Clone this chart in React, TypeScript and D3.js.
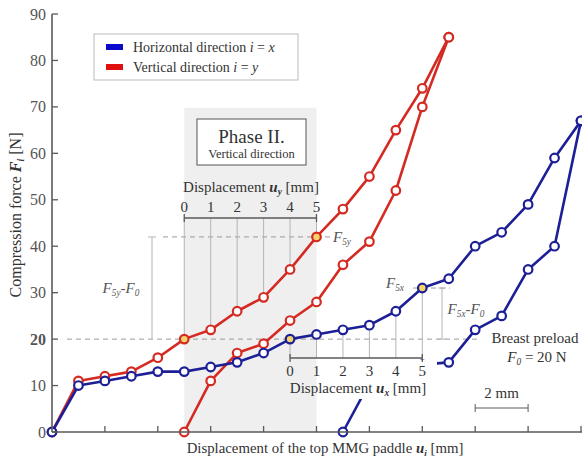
import React from 'react';
import * as d3 from 'd3';

// displacement of the top paddle [mm] and compression force [N]
const redLoadU = [0, 1, 2, 3, 4, 5, 6, 7, 8, 9, 10, 11, 12, 13, 14, 15];
const redLoadF = [0, 11, 12, 13, 16, 20, 22, 26, 29, 35, 42, 48, 55, 65, 74, 85];
const redUnloadU = [15, 14, 13, 12, 11, 10, 9, 8, 7, 6, 5];
const redUnloadF = [85, 70, 52, 41, 36, 28, 24, 19, 17, 11, 0];
const blueLoadU = [0, 1, 2, 3, 4, 5, 6, 7, 8, 9, 10, 11, 12, 13, 14, 15, 16, 17, 18, 19, 20];
const blueLoadF = [0, 10, 11, 12, 13, 13, 14, 15, 17, 20, 21, 22, 23, 26, 31, 33, 40, 43, 49, 59, 67];
const blueUnloadU = [20, 19, 18, 17, 16, 15, 14, 13, 12, 11];
const blueUnloadF = [67, 40, 35, 25, 22, 15, 14.5, 13, 10.5, 0];

const yTicks = [0, 10, 20, 30, 40, 50, 60, 70, 80, 90];
const xTicks = [2, 4, 6, 8, 10, 12, 14, 16, 18, 20];
const insetTicks = [0, 1, 2, 3, 4, 5];
const yStart = 5; // u_y = 0 at paddle 5 mm
const xStart = 9; // u_x = 0 at paddle 9 mm
const preload = 20;

const RED = '#d42a22';
const BLUE = '#1c1f96';
const AXIS = '#5a5a5a';
const GRID = '#b4b4b4';
const TXT = '#333';
const FONT = "'Liberation Serif', 'DejaVu Serif', serif";

const x = d3.scaleLinear().domain([0, 20]).range([52, 581]);
const y = d3.scaleLinear().domain([0, 90]).range([432, 14]);

const line = d3.line<[number, number]>().x(d => x(d[0])).y(d => y(d[1]));
const zip = (u: number[], f: number[]) => u.map((v, i) => [v, f[i]] as [number, number]);

const Series = ({ u, f, color, hi }: { u: number[]; f: number[]; color: string; hi: number[] }) => (
  <g>
    <path d={line(zip(u, f)) || ''} fill="none" stroke={color} strokeWidth={2.6} strokeLinejoin="round" />
    {u.map((v, i) => (
      <circle key={i} cx={x(v)} cy={y(f[i])} r={4.3} fill={hi.includes(v) ? '#f2d46a' : '#fff'} stroke={color} strokeWidth={2.2} />
    ))}
  </g>
);

// symbol with subscript, then the rest of the text back on the baseline
const Sym = ({ s, sub, rest, bold = false }: { s: string; sub: string; rest?: string; bold?: boolean }) => (
  <>
    <tspan fontStyle="italic" fontWeight={bold ? 'bold' : 'normal'}>{s}</tspan>
    <tspan fontStyle="italic" fontWeight={bold ? 'bold' : 'normal'} fontSize="0.62em" dy={3}>{sub}</tspan>
    {rest ? <tspan dy={-3}>{rest}</tspan> : null}
  </>
);

export default function App() {
  const fAt = (u: number) => redLoadF[redLoadU.indexOf(u)];
  const gAt = (u: number) => blueLoadF[blueLoadU.indexOf(u)];
  const axY = 218; // inset u_y axis
  const axX = 358; // inset u_x axis
  return (
    <svg width={582} height={464} style={{ position: 'absolute', left: 0, top: 0, background: '#fff', fontFamily: FONT }}>
      {/* phase II shade */}
      <rect x={x(yStart)} y={y(69.8)} width={x(yStart + 5) - x(yStart)} height={y(0) - y(69.8)} fill="#efefef" />

      {/* legend */}
      <rect x={94} y={34} width={204} height={46} fill="#fff" stroke="#bbb" />
      <rect x={106} y={44} width={17} height={6} fill="#0a0acc" />
      <rect x={106} y={64} width={17} height={6} fill="#e01010" />
      <text x={133} y={52} fontSize={14} fill={TXT}>Horizontal direction <tspan fontStyle="italic">i</tspan> = <tspan fontStyle="italic">x</tspan></text>
      <text x={133} y={72} fontSize={14} fill={TXT}>Vertical direction <tspan fontStyle="italic">i</tspan> = <tspan fontStyle="italic">y</tspan></text>

      {/* phase box */}
      <rect x={197} y={119} width={109} height={46} fill="#fff" stroke="#555" strokeWidth={1} />
      <text x={251.5} y={143} fontSize={19} textAnchor="middle" fill={TXT}>Phase II.</text>
      <text x={251.5} y={158} fontSize={12.5} textAnchor="middle" fill={TXT}>Vertical direction</text>

      {/* dashed reference lines */}
      <line x1={67} x2={480} y1={y(preload)} y2={y(preload)} stroke="#999" strokeDasharray="5,4" />
      <line x1={163} x2={330} y1={y(42)} y2={y(42)} stroke="#999" strokeDasharray="5,4" />
      <line x1={413} x2={450} y1={y(31)} y2={y(31)} stroke="#999" strokeDasharray="5,4" />

      {/* F5y - F0 bracket */}
      <line x1={152} x2={152} y1={y(42)} y2={y(preload)} stroke={GRID} />
      <line x1={148} x2={156} y1={y(42)} y2={y(42)} stroke={GRID} />
      <text x={121} y={293} fontSize={15} textAnchor="middle" fill="#555"><Sym s="F" sub="5y" rest="-" /><Sym s="F" sub="0" /></text>
      {/* F5x - F0 bracket */}
      <line x1={442} x2={442} y1={y(31)} y2={y(preload)} stroke={GRID} />
      <line x1={438} x2={446} y1={y(31)} y2={y(31)} stroke={GRID} />
      <line x1={438} x2={446} y1={y(preload)} y2={y(preload)} stroke={GRID} />
      <text x={466} y={314} fontSize={15} textAnchor="middle" fill="#555"><Sym s="F" sub="5x" rest="-" /><Sym s="F" sub="0" /></text>

      {/* inset u_y */}
      {insetTicks.map(t => (
        <line key={'gy' + t} x1={x(yStart + t)} x2={x(yStart + t)} y1={axY} y2={y(fAt(yStart + t))} stroke={GRID} />
      ))}
      <line x1={x(yStart)} x2={x(yStart + 5)} y1={axY} y2={axY} stroke={AXIS} strokeWidth={1.3} />
      <line x1={x(yStart)} x2={x(yStart)} y1={axY - 4} y2={axY + 4} stroke={AXIS} strokeWidth={1.3} />
      <line x1={x(yStart + 5)} x2={x(yStart + 5)} y1={axY - 4} y2={axY + 4} stroke={AXIS} strokeWidth={1.3} />
      {insetTicks.map(t => (
        <text key={'ly' + t} x={x(yStart + t)} y={212} fontSize={15} textAnchor="middle" fill={TXT}>{t}</text>
      ))}
      <text x={251} y={192} fontSize={15} textAnchor="middle" fill={TXT}>Displacement <Sym s="u" sub="y" rest=" [mm]" bold /></text>

      {/* inset u_x gridlines */}
      {insetTicks.map(t => (
        <line key={'gx' + t} x1={x(xStart + t)} x2={x(xStart + t)} y1={axX} y2={y(gAt(xStart + t))} stroke={GRID} />
      ))}

      {/* curves */}
      <Series u={blueUnloadU} f={blueUnloadF} color={BLUE} hi={[]} />
      <rect x={x(10) + 1} y={360} width={437 - x(10) - 1} height={39} fill="#fff" />
      <Series u={redLoadU} f={redLoadF} color={RED} hi={[5, 10]} />
      <Series u={redUnloadU} f={redUnloadF} color={RED} hi={[]} />
      <Series u={blueLoadU} f={blueLoadF} color={BLUE} hi={[9, 14]} />

      {/* inset u_x axis */}
      <line x1={x(xStart)} x2={x(xStart + 5)} y1={axX} y2={axX} stroke={AXIS} strokeWidth={1.3} />
      <line x1={x(xStart)} x2={x(xStart)} y1={axX - 4} y2={axX + 4} stroke={AXIS} strokeWidth={1.3} />
      <line x1={x(xStart + 5)} x2={x(xStart + 5)} y1={axX - 4} y2={axX + 4} stroke={AXIS} strokeWidth={1.3} />
      {insetTicks.map(t => (
        <text key={'lx' + t} x={x(xStart + t)} y={376} fontSize={15} textAnchor="middle" fill={TXT}>{t}</text>
      ))}
      <text x={358} y={393} fontSize={15} textAnchor="middle" fill={TXT}>Displacement <Sym s="u" sub="x" rest=" [mm]" bold /></text>

      {/* point labels */}
      <text x={333} y={242} fontSize={15} fill="#555"><Sym s="F" sub="5y" /></text>
      <text x={386} y={288} fontSize={15} fill="#555"><Sym s="F" sub="5x" /></text>

      {/* preload note */}
      <text x={535} y={343} fontSize={15} textAnchor="middle" fill={TXT}>Breast preload</text>
      <text x={537} y={362} fontSize={15} textAnchor="middle" fill={TXT}><Sym s="F" sub="0" rest=" = 20 N" /></text>

      {/* scale bar */}
      <line x1={x(16)} x2={x(18)} y1={408} y2={408} stroke={AXIS} />
      <line x1={x(16)} x2={x(16)} y1={404} y2={412} stroke={AXIS} />
      <line x1={x(18)} x2={x(18)} y1={404} y2={412} stroke={AXIS} />
      <text x={x(17)} y={398} fontSize={15} textAnchor="middle" fill={TXT}>2 mm</text>

      {/* axes */}
      <line x1={x(0)} x2={582} y1={y(0)} y2={y(0)} stroke={AXIS} strokeWidth={1.6} />
      <line x1={x(0)} x2={x(0)} y1={y(0)} y2={y(90)} stroke={AXIS} strokeWidth={1.6} />
      {xTicks.map(t => (
        <line key={'xt' + t} x1={x(t)} x2={x(t)} y1={y(0)} y2={y(0) - 6} stroke={AXIS} strokeWidth={1.3} />
      ))}
      {yTicks.map(t => (
        <g key={'yt' + t}>
          <line x1={x(0)} x2={x(0) + 6} y1={y(t)} y2={y(t)} stroke={AXIS} strokeWidth={1.3} />
          <text x={x(0) - 6} y={y(t)} dy="0.35em" fontSize={16} textAnchor="end" fill="#555" fontWeight={t === preload ? 'bold' : 'normal'}>{t}</text>
        </g>
      ))}
      <text x={325} y={453} fontSize={14.8} textAnchor="middle" fill={TXT}>Displacement of the top MMG paddle <Sym s="u" sub="i" rest=" [mm]" bold /></text>
      <text transform="translate(21,215) rotate(-90)" fontSize={16} textAnchor="middle" fill={TXT}>Compression force <Sym s="F" sub="i" rest=" [N]" bold /></text>
    </svg>
  );
}
